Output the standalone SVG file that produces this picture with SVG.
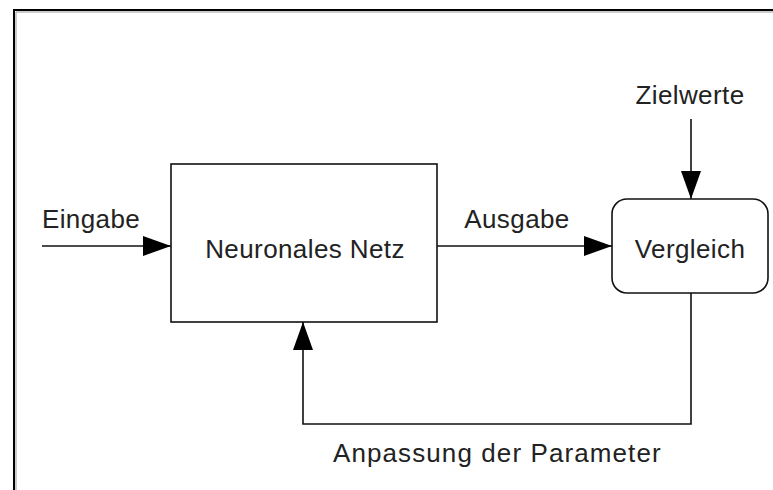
<svg xmlns="http://www.w3.org/2000/svg" width="773" height="490" viewBox="0 0 773 490">
  <style>
    .lbl { font-family: "Liberation Sans", Arial, sans-serif; font-size: 26px; fill: #222; letter-spacing: 0.4px; }
    .box { fill: #fff; stroke: #111; stroke-width: 1.6; }
    .wire { fill: none; stroke: #111; stroke-width: 1.6; }
  </style>
  <defs>
    <marker id="arrow" viewBox="0 0 28 20" refX="28" refY="10" markerWidth="28" markerHeight="20" markerUnits="userSpaceOnUse" orient="auto">
      <path d="M0,0 L28,10 L0,20 Z" fill="#000"/>
    </marker>
  </defs>
  <rect width="773" height="490" fill="#fff"/>
  <!-- frame -->
  <path d="M14,490 V10 H773" fill="none" stroke="#000" stroke-width="2"/>
  <path d="M16,490 V12 H773" fill="none" stroke="#999" stroke-width="1"/>

  <g id="connectors">
    <line class="wire" x1="42" y1="246" x2="171" y2="246" marker-end="url(#arrow)"/>
    <line class="wire" x1="437" y1="246" x2="612" y2="246" marker-end="url(#arrow)"/>
    <line class="wire" x1="691" y1="119" x2="691" y2="199" marker-end="url(#arrow)"/>
    <polyline class="wire" points="691,293 691,424 303,424 303,322" marker-end="url(#arrow)"/>
  </g>

  <g id="netz">
    <rect class="box" x="171" y="164" width="266" height="158"/>
    <text class="lbl" x="305" y="258" text-anchor="middle">Neuronales Netz</text>
  </g>
  <g id="vergleich">
    <rect class="box" x="612" y="199" width="156" height="94" rx="15" ry="15"/>
    <text class="lbl" x="690" y="258" text-anchor="middle">Vergleich</text>
  </g>

  <g id="labels">
    <text class="lbl" x="91" y="228" text-anchor="middle">Eingabe</text>
    <text class="lbl" x="517" y="228" text-anchor="middle">Ausgabe</text>
    <text class="lbl" x="690" y="104" text-anchor="middle">Zielwerte</text>
    <text class="lbl" x="497" y="462" text-anchor="middle" textLength="328">Anpassung der Parameter</text>
  </g>
</svg>
